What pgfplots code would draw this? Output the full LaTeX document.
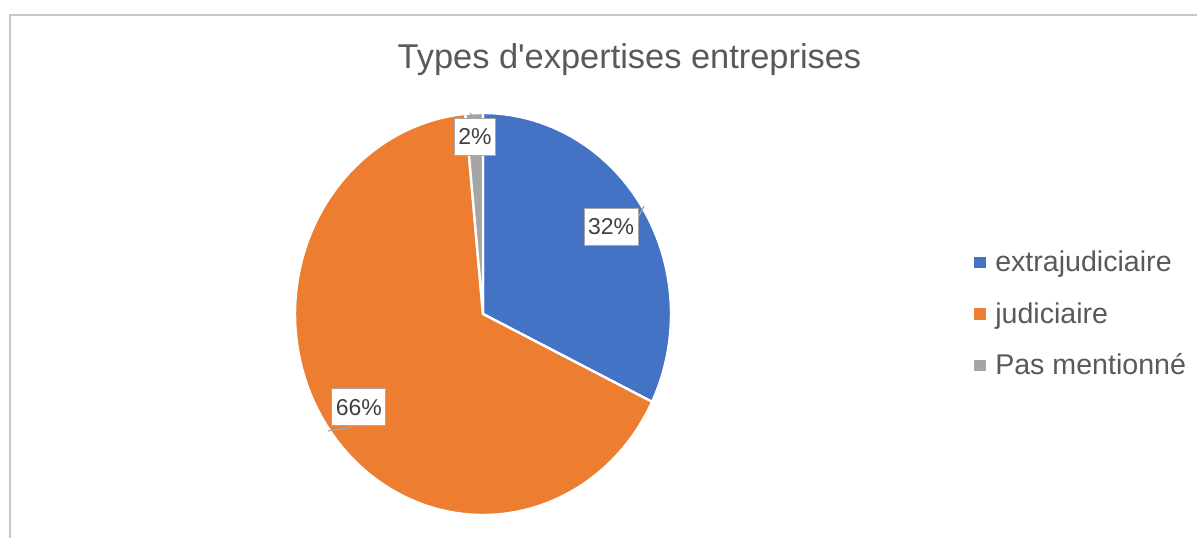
\documentclass[border=0pt]{standalone}
\usepackage{fontspec}
\setmainfont{Liberation Sans}
\usepackage{pgfplots}
\usepackage{pgfplotstable}
\pgfplotsset{compat=1.18}
\definecolor{cA}{HTML}{4472C4}
\definecolor{cB}{HTML}{ED7D31}
\definecolor{cC}{HTML}{A5A5A5}
\definecolor{txt}{HTML}{595959}
\definecolor{lbl}{HTML}{404040}
\definecolor{frame}{HTML}{C8C8C8}
\definecolor{lead}{HTML}{A6A6A6}
\pgfplotstableread{
label value
extrajudiciaire 32.2
judiciaire 66.3
pasmentionne 1.5
}\piedata
\pgfplotstablegetelem{0}{value}\of\piedata \let\vA\pgfplotsretval
\pgfplotstablegetelem{1}{value}\of\piedata \let\vB\pgfplotsretval
\pgfplotstablegetelem{2}{value}\of\piedata \let\vC\pgfplotsretval
\pgfmathsetmacro\aA{90}
\pgfmathsetmacro\aB{90-3.6*\vA}
\pgfmathsetmacro\aC{\aB-3.6*\vB}
\pgfmathsetmacro\aD{\aC-3.6*\vC}
\begin{document}
\begin{tikzpicture}
\useasboundingbox (0,0) rectangle (598.5pt,268.5pt);
\draw[frame, line width=1pt] (4.75pt,-10pt) -- (4.75pt,260.75pt) -- (620pt,260.75pt);
\begin{axis}[
  at={(241.5pt,111.5pt)}, anchor=center,
  scale only axis, width=188pt, height=201pt,
  xmin=-1, xmax=1, ymin=-1, ymax=1,
  hide axis, clip=false,
  title={Types d\textquotesingle expertises entreprises},
  title style={at={(0.8896,1.080)}, anchor=base, font=\fontsize{17.2}{20}\selectfont, text=txt},
  legend style={at={(1.806,0.490)}, anchor=west, draw=none, fill=none, inner sep=0pt,
    font=\fontsize{14.3}{17}\selectfont, text=txt,
    nodes={inner sep=0pt, text height=0.75em, text depth=0.25em},
    /tikz/row sep=15.7pt, /tikz/column sep=4.5pt},
  legend cell align=left,
]
\addplot[forget plot, fill=cA, draw=white, line width=1.2pt, line join=round, samples=120, domain=\aB:\aA] ({cos(x)},{sin(x)}) -- (0,0) -- cycle;
\addplot[forget plot, fill=cB, draw=white, line width=1.2pt, line join=round, samples=200, domain=\aC:\aB] ({cos(x)},{sin(x)}) -- (0,0) -- cycle;
\addplot[forget plot, fill=cC, draw=white, line width=1.2pt, line join=round, samples=10, domain=\aD:\aC] ({cos(x)},{sin(x)}) -- (0,0) -- cycle;
\draw[lead, line width=0.6pt] (0.814,0.458) -- (0.856,0.537);
\draw[lead, line width=0.6pt] (-0.824,-0.582) -- (-0.691,-0.562);
\draw[lead, line width=0.6pt] (-0.069,1.0) -- (-0.053,0.975);
\tikzset{dl/.style={fill=white, draw=lead, line width=0.5pt, text=lbl, font=\fontsize{11.5}{13}\selectfont, inner xsep=2pt, inner ysep=0pt, minimum height=18.5pt}}
\node[dl] at (0.681,0.433) {32\%};
\node[dl] at (-0.0426,0.883) {2\%};
\node[dl] at (-0.660,-0.465) {66\%};
\addlegendimage{legend image code/.code={\fill[cA] (0pt,-0.6pt) rectangle (5.5pt,4.6pt);}}
\addlegendimage{legend image code/.code={\fill[cB] (0pt,-0.6pt) rectangle (5.5pt,4.6pt);}}
\addlegendimage{legend image code/.code={\fill[cC] (0pt,-0.6pt) rectangle (5.5pt,4.6pt);}}
\legend{extrajudiciaire, judiciaire, Pas mentionné}
\end{axis}
\end{tikzpicture}
\end{document}
